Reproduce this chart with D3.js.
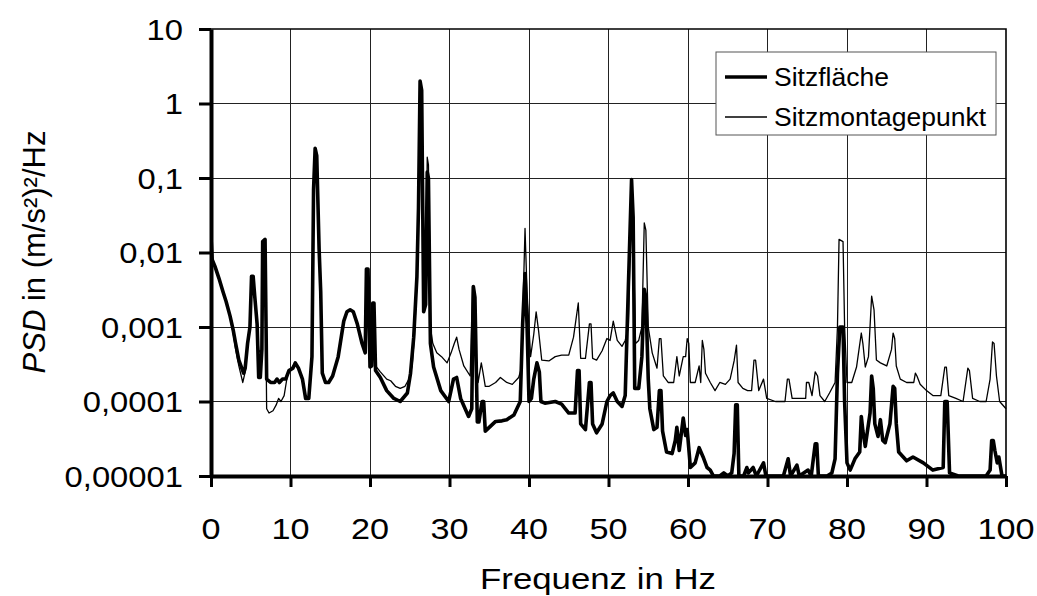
<!DOCTYPE html>
<html><head><meta charset="utf-8">
<script src="https://cdn.jsdelivr.net/npm/d3@7"></script>
<style>html,body{margin:0;padding:0;background:#fff;}svg{display:block;}</style>
</head><body>
<svg id="chart" width="1037" height="596"></svg>
<script>
// ---- data ----
const seriesNames = ["Sitzfläche", "Sitzmontagepunkt"];
const xTicks = [0, 10, 20, 30, 40, 50, 60, 70, 80, 90, 100];
const yTicks = [0.00001, 0.0001, 0.001, 0.01, 0.1, 1, 10];
const yTickLabels = ["0,00001", "0,0001", "0,001", "0,01", "0,1", "1", "10"];

// Sitzfläche (thick)
const freqSitz = [0,0.15,0.5,1,1.5,1.9,2.4,2.8,3.1,3.5,4.1,4.3,4.6,4.9,5.1,5.3,5.5,5.8,6,6.2,6.4,6.5,6.8,7,7.5,8,8.3,8.6,9,9.4,9.8,10.3,10.6,11,11.5,11.9,12.3,12.7,12.9,13.1,13.3,13.6,13.8,14,14.4,14.8,15.3,16,16.7,17.1,17.5,17.9,18.4,19,19.4,19.55,19.75,20,20.2,20.35,20.5,20.7,21.3,22.1,23,23.8,24.7,25.1,25.5,25.9,26.1,26.3,26.5,26.75,27,27.2,27.35,27.6,28,28.9,29.9,30.5,30.9,31.4,32.4,32.8,33,33.2,33.5,33.7,34.1,34.3,34.5,35,35.8,36.6,37.2,38.1,38.9,39.2,39.5,39.75,40,40.3,40.6,41,41.3,41.5,42,43.3,44.1,45,45.8,46.1,46.3,46.5,47.1,47.6,47.8,48,48.5,49.2,49.8,50.2,50.6,51.1,51.7,52.1,52.5,52.9,53.1,53.3,53.8,54.2,54.5,54.7,55,55.2,55.7,56.1,56.4,56.6,56.8,57.3,58,58.4,58.6,58.9,59.4,59.7,59.9,60.3,60.9,61.4,61.9,62.4,62.8,63.2,64,64.5,65,65.5,65.8,66,66.2,66.4,67,67.4,67.6,68.2,68.6,69.5,69.8,71,72,72.6,72.9,73.7,74,75.1,75.5,76,76.2,76.4,77.5,78.1,78.5,78.8,79.1,79.5,79.7,80,80.4,81,81.6,81.8,82,82.3,82.9,83.1,83.3,83.5,83.9,84.2,84.5,84.8,85.4,85.8,86,86.2,86.5,87.5,88.3,89.6,90.8,92.1,92.3,92.6,92.9,94,96,97.5,98,98.2,98.4,98.6,98.9,99.1,99.5,100];
const psdSitz = [0.016,0.008,0.0065,0.0045,0.003,0.0022,0.0014,0.0009,0.0006,0.00036,0.00024,0.00028,0.0006,0.001,0.0048,0.0048,0.0026,0.0011,0.00021,0.00021,0.0005,0.014,0.015,0.0002,0.00018,0.00018,0.0002,0.00018,0.0002,0.0002,0.00026,0.00028,0.00033,0.00028,0.0002,0.00011,0.00011,0.0004,0.07,0.25,0.2,0.011,0.003,0.00024,0.00018,0.00018,0.00022,0.0004,0.0012,0.0016,0.0017,0.0016,0.0011,0.0006,0.00045,0.006,0.006,0.00029,0.0003,0.0021,0.0021,0.00026,0.00021,0.00014,0.00011,0.0001,0.00013,0.00024,0.00073,0.0047,0.04,2.0,1.5,0.0016,0.002,0.12,0.1,0.0006,0.00029,0.00014,0.0001,0.0002,0.00021,0.00011,0.000063,0.00008,0.0035,0.0025,0.000053,0.000053,0.0001,0.0001,0.00004,0.000045,0.000054,0.000055,0.000057,0.000066,0.0001,0.0011,0.0052,0.0011,0.0001,0.00011,0.0002,0.00033,0.00025,0.0001,0.000095,0.0001,0.000092,0.00007,0.00007,0.00026,0.00026,0.00005,0.000042,0.00018,0.00018,0.00005,0.000038,0.00005,0.0001,0.00012,0.00013,0.0001,0.000086,0.00012,0.0035,0.095,0.03,0.00015,0.00015,0.0004,0.0032,0.0025,0.0002,0.00008,0.000042,0.000045,0.00014,0.00014,0.00004,0.000021,0.00002,0.00003,0.000045,0.000022,0.00006,0.000035,0.000042,0.000013,0.000015,0.000024,0.000018,0.000013,0.000012,0.00001,0.00001,0.000011,0.00001,0.000011,0.00002,0.00009,0.00009,0.00001,0.00001,0.000013,0.000011,0.000013,0.00001,0.000015,0.00001,0.00001,0.00001,0.000017,0.00001,0.000014,0.00001,0.000012,0.00001,0.000027,0.000027,0.00001,0.00001,0.000011,0.000017,0.00024,0.001,0.001,0.0001,0.000015,0.000012,0.000017,0.000021,0.000063,0.00004,0.000025,0.00007,0.00022,0.00015,0.00005,0.000034,0.000057,0.00003,0.000028,0.00005,0.00016,0.00015,0.00005,0.000021,0.000016,0.000018,0.000015,0.000012,0.000013,0.0001,0.0001,0.000011,0.00001,0.00001,0.00001,0.000012,0.00003,0.00003,0.000022,0.000015,0.000018,0.00001,0.00001];

// Sitzmontagepunkt (thin)
const freqMont = [0,0.15,0.5,1,1.5,1.9,2.4,2.8,3.1,3.5,4,4.3,4.6,4.9,5.1,5.3,5.5,5.8,6,6.2,6.4,6.5,6.8,7,7.3,7.8,8.2,8.5,8.8,9.2,9.6,10,10.6,11,11.5,11.9,12.3,12.7,12.9,13.1,13.3,13.6,13.8,14,14.4,14.8,15.3,16,16.7,17.1,17.5,17.9,18.4,19,19.4,19.55,19.75,20,20.2,20.35,20.5,20.7,21.3,22.1,22.6,23.2,23.8,24.4,24.9,25.3,25.6,25.9,26.1,26.3,26.5,26.75,27,27.2,27.35,27.6,27.9,28.4,29,29.7,30.2,30.6,30.9,31.2,31.8,32.6,32.9,33.1,33.3,33.6,34,34.2,34.5,35,35.8,36.4,37.2,37.9,38.7,39.1,39.3,39.5,39.75,40.2,40.6,40.9,41.2,41.6,42.5,43.3,44.1,45,45.6,46.2,46.5,47.1,47.6,47.8,48,48.5,49.2,49.8,50.2,50.6,51.1,51.7,52.1,52.5,52.9,53.1,53.4,53.8,54.2,54.5,54.7,55,55.5,56.1,56.4,56.6,56.9,57.5,58.2,58.6,58.9,59.4,59.7,59.9,60.1,60.3,60.9,61.4,61.6,61.8,62,62.2,62.8,63.4,64,64.7,65.3,65.8,66.1,66.3,66.9,67.5,68,68.3,68.5,68.9,69.5,69.9,71,72.2,72.5,72.7,73.1,73.9,74.8,74.9,75.2,75.6,76,76.3,76.6,77.2,77.8,78.5,78.8,79,79.5,79.7,80,80.6,81.2,81.8,82,82.3,82.7,83.1,83.4,83.7,84.2,85,85.6,85.8,86,86.2,86.7,87.5,88.4,88.6,88.8,89.2,90,90.8,91.8,92.3,92.5,92.8,93.7,94.6,95.2,95.4,95.8,96.7,97.5,98,98.3,98.5,98.8,99.2,100];
const psdMont = [0.015,0.008,0.0065,0.0045,0.003,0.0022,0.0014,0.0008,0.0005,0.0003,0.00018,0.00025,0.0006,0.001,0.0045,0.0045,0.0024,0.0009,0.0005,0.00045,0.0005,0.013,0.013,0.00008,0.00007,0.000075,0.00009,0.00011,0.0001,0.00012,0.00022,0.00027,0.00033,0.00028,0.0002,0.00011,0.00011,0.0004,0.06,0.22,0.15,0.01,0.003,0.00024,0.00019,0.00018,0.00022,0.0004,0.0012,0.0016,0.0017,0.0016,0.0011,0.0006,0.00045,0.005,0.005,0.0003,0.0003,0.0018,0.0018,0.0003,0.00025,0.0002,0.00019,0.00016,0.00015,0.00016,0.0002,0.0003,0.0008,0.004,0.03,1.5,1.0,0.003,0.003,0.19,0.15,0.001,0.0006,0.00045,0.0004,0.00033,0.00045,0.0006,0.00073,0.0005,0.0003,0.00022,0.0035,0.0035,0.0005,0.00018,0.00033,0.00025,0.00016,0.00016,0.00018,0.00021,0.00018,0.00017,0.00021,0.00029,0.0032,0.021,0.003,0.0004,0.0008,0.0016,0.0009,0.00036,0.00035,0.0004,0.00042,0.00042,0.00073,0.0021,0.00038,0.00038,0.0011,0.0011,0.00038,0.00036,0.00048,0.0007,0.00066,0.0012,0.00066,0.00055,0.00066,0.001,0.095,0.02,0.0006,0.00066,0.001,0.025,0.02,0.001,0.00045,0.00028,0.0007,0.0007,0.00022,0.00018,0.00018,0.0004,0.00022,0.0004,0.0004,0.0007,0.0006,0.00018,0.00018,0.0003,0.00018,0.00066,0.0005,0.00024,0.00018,0.00014,0.00018,0.00017,0.0002,0.00035,0.00057,0.00018,0.00015,0.00014,0.00014,0.00036,0.00036,0.00014,0.0002,0.00011,0.0001,0.0001,0.0002,0.0002,0.00011,0.00011,0.00011,0.00018,0.00018,0.00012,0.00025,0.00022,0.00012,0.0001,0.00013,0.00018,0.001,0.015,0.014,0.001,0.00018,0.00018,0.00029,0.00083,0.0006,0.00029,0.0004,0.0026,0.0017,0.00036,0.00033,0.0003,0.0005,0.00083,0.0007,0.0003,0.0002,0.00018,0.00018,0.00024,0.00022,0.00017,0.00014,0.00012,0.00012,0.00029,0.00029,0.00012,0.00011,0.0001,0.00028,0.00026,0.00011,0.0001,0.0001,0.0002,0.00063,0.0006,0.00022,0.0001,0.00008];

// ---- chart ----
const L = 211, R = 1006, T = 29, B = 476;
const svg = d3.select("#chart");
const FONT = "'Liberation Sans', Arial, sans-serif";

const x = d3.scaleLinear().domain([0, 100]).range([L, R]);
const y = d3.scaleLog().domain([1e-5, 10]).range([B, T]).clamp(true);

// grid
const grid = svg.append("g").attr("stroke", "#222").attr("stroke-width", 1).attr("shape-rendering", "crispEdges");
grid.selectAll("line.v").data(xTicks.slice(1, -1)).join("line")
  .attr("x1", d => x(d)).attr("x2", d => x(d)).attr("y1", T).attr("y2", B);
grid.selectAll("line.h").data(yTicks.slice(1, -1)).join("line")
  .attr("x1", L).attr("x2", R).attr("y1", d => y(d)).attr("y2", d => y(d));

// top & right border
svg.append("path").attr("d", `M${L},${T}H${R}V${B}`).attr("fill", "none")
  .attr("stroke", "#000").attr("stroke-width", 1.6);

// lines
svg.append("clipPath").attr("id", "clip").append("rect")
  .attr("x", L).attr("y", T - 2).attr("width", R - L + 2).attr("height", B - T + 4);
const line = d3.line().x(d => x(d[0])).y(d => y(d[1]));
const dataMont = freqMont.map((f, i) => [f, psdMont[i]]);
const dataSitz = freqSitz.map((f, i) => [f, psdSitz[i]]);
svg.append("path").datum(dataMont).attr("d", line).attr("fill", "none")
  .attr("stroke", "#000").attr("stroke-width", 1.3).attr("stroke-linejoin", "round")
  .attr("clip-path", "url(#clip)");
svg.append("path").datum(dataSitz).attr("d", line).attr("fill", "none")
  .attr("stroke", "#000").attr("stroke-width", 3.6).attr("stroke-linejoin", "round")
  .attr("clip-path", "url(#clip)");

// axes
const yAxis = d3.axisLeft(y).tickValues(yTicks).tickFormat(() => "").tickSize(12).tickSizeOuter(0);
const yG = svg.append("g").attr("transform", `translate(${L},0)`).call(yAxis);
yG.select(".domain").attr("stroke-width", 4);
yG.selectAll(".tick line").attr("stroke-width", 3);
const xAxis = d3.axisBottom(x).tickValues(xTicks).tickFormat(() => "").tickSize(11).tickSizeOuter(0);
const xG = svg.append("g").attr("transform", `translate(0,${B})`).call(xAxis);
xG.select(".domain").attr("stroke-width", 4);
xG.selectAll(".tick line").attr("stroke-width", 3);

// tick labels (horizontally stretched like the source)
svg.append("g").selectAll("text").data(yTicks).join("text")
  .attr("transform", d => `translate(183,${y(d) + 10.5}) scale(1.13,1)`)
  .attr("text-anchor", "end").attr("font-family", FONT).attr("font-size", 29)
  .text((d, i) => yTickLabels[i]);
svg.append("g").selectAll("text").data(xTicks).join("text")
  .attr("transform", d => `translate(${x(d)},538.5) scale(1.18,1)`)
  .attr("text-anchor", "middle").attr("font-family", FONT).attr("font-size", 29)
  .text(d => d);

// axis titles
svg.append("text").attr("transform", "translate(598,589) scale(1.2,1)")
  .attr("text-anchor", "middle").attr("font-family", FONT).attr("font-size", 29)
  .text("Frequenz in Hz");
const yt = svg.append("text").attr("transform", "translate(45,252) rotate(-90)")
  .attr("text-anchor", "middle").attr("font-family", FONT).attr("font-size", 31);
yt.append("tspan").attr("font-style", "italic").text("PSD");
yt.append("tspan").text(" in (m/s²)²/Hz");

// legend
const lg = svg.append("g");
lg.append("rect").attr("x", 716).attr("y", 52).attr("width", 280).attr("height", 83)
  .attr("fill", "#fff").attr("stroke", "#555").attr("stroke-width", 1);
const legY = [77, 117];
const legW = [3.6, 1.3];
seriesNames.forEach((n, i) => {
  lg.append("line").attr("x1", 725).attr("x2", 767).attr("y1", legY[i]).attr("y2", legY[i])
    .attr("stroke", "#000").attr("stroke-width", legW[i]);
  lg.append("text").attr("x", 774).attr("y", legY[i] + 9).attr("font-family", FONT)
    .attr("font-size", 26.5).text(n);
});
</script>
</body></html>
